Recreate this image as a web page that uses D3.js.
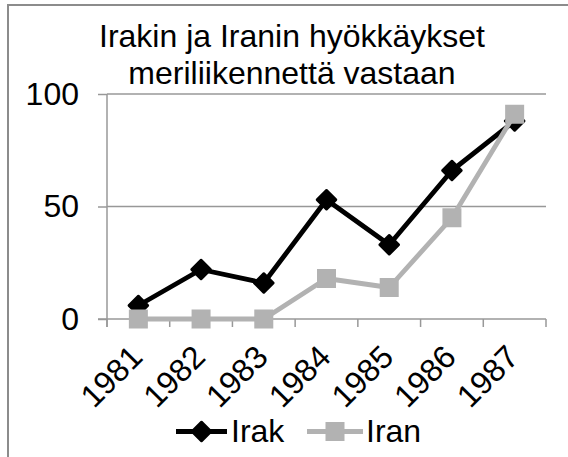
<!DOCTYPE html>
<html>
<head>
<meta charset="utf-8">
<script src="https://cdn.jsdelivr.net/npm/d3@7"></script>
<style>
  html, body { margin: 0; padding: 0; background: #fff; }
  svg { display: block; }
  text { font-family: "Liberation Sans", Arial, sans-serif; fill: #000; }
</style>
</head>
<body>
<div id="chart"></div>
<script>
const titleLines = ["Irakin ja Iranin hyökkäykset", "meriliikennettä vastaan"];
const years = ["1981", "1982", "1983", "1984", "1985", "1986", "1987"];
const irak = [6, 22, 16, 53, 33, 66, 88];
const iran = [0, 0, 0, 18, 14, 45, 91];
const yTicks = [0, 50, 100];
const seriesNames = ["Irak", "Iran"];

const W = 568, H = 457;
const FS = 32;
const svg = d3.select("#chart").append("svg").attr("width", W).attr("height", H);

// outer chart border (only left and top visible in crop)
svg.append("path")
  .attr("d", `M8,${H + 5} L8,5 L${W + 5},5`)
  .attr("fill", "none").attr("stroke", "#8c8c8c").attr("stroke-width", 2);

const x = d3.scaleBand().domain(years).range([107, 546]).padding(0);
const y = d3.scaleLinear().domain([0, 100]).range([319, 94]);
const cx = d => x(d) + x.bandwidth() / 2;

// title
svg.append("text")
  .attr("text-anchor", "middle")
  .attr("font-size", FS)
  .selectAll("tspan").data(titleLines).join("tspan")
  .attr("x", 292)
  .attr("y", (d, i) => 47 + i * 36.5)
  .text(d => d);

// gridlines
svg.append("g").selectAll("line").data(yTicks.filter(t => t > 0)).join("line")
  .attr("x1", x.range()[0]).attr("x2", x.range()[1])
  .attr("y1", d => y(d)).attr("y2", d => y(d))
  .attr("stroke", "#989898").attr("stroke-width", 1.5);

// y axis
const yAxis = svg.append("g").attr("transform", `translate(${x.range()[0]},0)`)
  .call(d3.axisLeft(y).tickValues(yTicks).tickSize(9).tickPadding(19).tickFormat(d3.format("d")));
yAxis.select(".domain").remove();
yAxis.selectAll(".tick line").attr("stroke", "#989898").attr("stroke-width", 1.5);
yAxis.selectAll(".tick text").attr("font-size", FS).attr("font-family", "Liberation Sans, Arial, sans-serif").attr("fill", "#000");

// vertical axis line, extending to tick length below
svg.append("line")
  .attr("x1", x.range()[0]).attr("x2", x.range()[0])
  .attr("y1", y(100)).attr("y2", y(0) + 8)
  .attr("stroke", "#989898").attr("stroke-width", 1.5);

// x axis line
svg.append("line")
  .attr("x1", x.range()[0] - 9).attr("x2", x.range()[1])
  .attr("y1", y(0)).attr("y2", y(0))
  .attr("stroke", "#989898").attr("stroke-width", 1.5);

// category boundary ticks
const bounds = years.map(d => x(d)).concat([x.range()[1]]);
svg.append("g").selectAll("line").data(bounds).join("line")
  .attr("x1", d => d).attr("x2", d => d)
  .attr("y1", y(0)).attr("y2", y(0) + 8)
  .attr("stroke", "#989898").attr("stroke-width", 1.5);

// x labels, rotated
svg.append("g").selectAll("text").data(years).join("text")
  .attr("font-size", FS)
  .attr("text-anchor", "end")
  .attr("transform", d => `translate(${cx(d) + 6},${359}) rotate(-45)`)
  .text(d => d);

// lines
const line = d3.line().x((d, i) => cx(years[i])).y(d => y(d));
const irakColor = "#000000", iranColor = "#b2b2b2";

svg.append("path").datum(irak)
  .attr("d", line).attr("fill", "none")
  .attr("stroke", irakColor).attr("stroke-width", 4.8).attr("stroke-linejoin", "round");

const diamond = (s) => `M0,${-s} L${s},0 L0,${s} L${-s},0 Z`;
svg.append("g").selectAll("path").data(irak).join("path")
  .attr("transform", (d, i) => `translate(${cx(years[i])},${y(d)})`)
  .attr("d", diamond(9.5))
  .attr("fill", irakColor).attr("stroke", irakColor).attr("stroke-width", 2.5).attr("stroke-linejoin", "round");

svg.append("path").datum(iran)
  .attr("d", line).attr("fill", "none")
  .attr("stroke", iranColor).attr("stroke-width", 4.8).attr("stroke-linejoin", "round");

svg.append("g").selectAll("rect").data(iran).join("rect")
  .attr("x", (d, i) => cx(years[i]) - 9.5)
  .attr("y", d => y(d) - 9.5)
  .attr("width", 19).attr("height", 19)
  .attr("fill", iranColor);

// legend
const legend = svg.append("g");
const legItems = [
  { name: seriesNames[0], color: irakColor, x0: 176, x1: 227, tx: 231, shape: "diamond" },
  { name: seriesNames[1], color: iranColor, x0: 307, x1: 363, tx: 366, shape: "square" }
];
const ly = 431.5;
legItems.forEach(it => {
  legend.append("line").attr("x1", it.x0).attr("x2", it.x1).attr("y1", ly).attr("y2", ly)
    .attr("stroke", it.color).attr("stroke-width", 4.8);
  const mx = (it.x0 + it.x1) / 2;
  if (it.shape === "diamond") {
    legend.append("path").attr("transform", `translate(${mx},${ly})`).attr("d", diamond(9.5))
      .attr("fill", it.color).attr("stroke", it.color).attr("stroke-width", 2.5).attr("stroke-linejoin", "round");
  } else {
    legend.append("rect").attr("x", mx - 9.5).attr("y", ly - 9.5).attr("width", 19).attr("height", 19).attr("fill", it.color);
  }
  legend.append("text").attr("x", it.tx).attr("y", 441.5).attr("font-size", FS).text(it.name);
});
</script>
</body>
</html>
